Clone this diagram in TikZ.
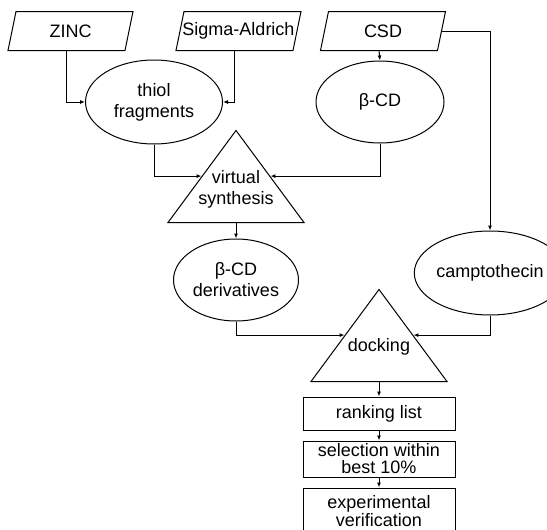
\documentclass[tikz,border=0pt]{standalone}
\usepackage{fontspec}
\setmainfont{Liberation Sans}
\usepackage{tikz}
\usetikzlibrary{arrows.meta,shapes.geometric}

\tikzset{
  every node/.style={font=\fontsize{18}{21}\selectfont,align=center,inner sep=0pt},
  datasrc/.style={rectangle,minimum width=116pt,minimum height=38pt},
  item/.style={draw,ellipse,minimum width=128pt,minimum height=82pt},
  process/.style={draw,isosceles triangle,isosceles triangle stretches,
    shape border rotate=90,minimum width=136pt,minimum height=92pt,anchor=lower side},
  stepbox/.style={draw,rectangle,minimum width=152pt},
  arr/.style={-{Latex[length=5pt,width=4pt]}}
}

\begin{document}
\begin{tikzpicture}[x=1pt,y=-1pt,line width=1pt]
  \clip (0,0) rectangle (547,530);
  % sources
  \node[datasrc] (zinc) at (70.5,31) {ZINC};
  \node[datasrc] (sigma) at (238.5,31) {Sigma-Aldrich};
  \node[datasrc] (csd) at (383,31) {CSD};
  \foreach \n in {zinc,sigma,csd}
    \draw ([xshift=4pt]\n.north west) -- ([xshift=4pt]\n.north east)
      -- ([xshift=-4pt]\n.south east) -- ([xshift=-4pt]\n.south west) -- cycle;
  % molecules
  \node[item,minimum width=137pt,minimum height=84pt] (thiol) at (154,102) {thiol\\fragments};
  \node[item] (bcd) at (380,102) {β-CD};
  \node[process] (vs) at (236,223) {};
  \node (vstext) at (236,189) {virtual\\synthesis};
  \node[item,minimum width=125pt] (deriv) at (236,280) {β-CD\\derivatives};
  \node[item,minimum width=130pt,minimum height=84pt] (campto) at (490,273) {camptothecin};
  \node[process] (dock) at (379,382) {};
  \node (docktext) at (379,347) {docking};
  % results
  \node[stepbox,minimum height=33pt] (rank) at (379,413.5) {ranking list};
  \node[stepbox,minimum height=36pt,font=\fontsize{18}{17}\selectfont] (sel) at (379,459) {selection within\\best 10\%};
  \node[stepbox,minimum height=46pt,font=\fontsize{18}{18}\selectfont] (exp) at (379,511) {experimental\\verification};

  \draw[arr] ([xshift=-4pt]zinc.south) |- (thiol.west);
  \draw[arr] ([xshift=-4pt]sigma.south) |- (thiol.east);
  \draw[arr] ([xshift=-4pt]csd.south) -- (bcd.north);
  \draw[arr] (csd.east) -| (campto.north);
  \draw[arr] (thiol.south) |- (vs.left side);
  \draw[arr] (bcd.south) |- (vs.right side);
  \draw[arr] (vs.lower side) -- (deriv.north);
  \draw[arr] (deriv.south) |- (dock.left side);
  \draw[arr] (campto.south) |- (dock.right side);
  \draw[arr] (dock.lower side) -- (rank.north);
  \draw[arr] (rank.south) -- (sel.north);
  \draw[arr] (sel.south) -- (exp.north);
\end{tikzpicture}
\end{document}
